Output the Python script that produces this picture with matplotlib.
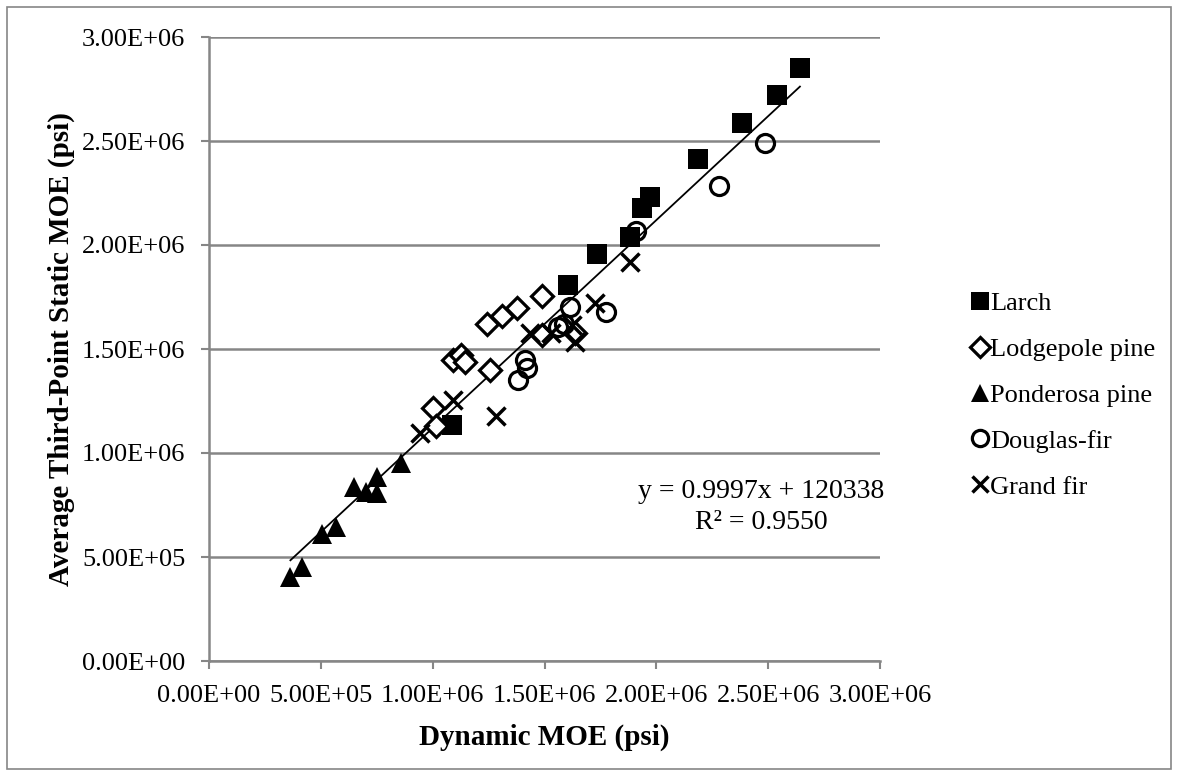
import matplotlib
matplotlib.use('Agg')
import matplotlib.pyplot as plt
from matplotlib.patches import Rectangle
from matplotlib.ticker import FuncFormatter, MultipleLocator

# Datos (psi)
larch_x = [1.085e6, 1.606e6, 1.734e6, 1.882e6, 1.935e6, 1.971e6, 2.185e6, 2.382e6, 2.539e6, 2.642e6]
larch_y = [1.135e6, 1.808e6, 1.957e6, 2.038e6, 2.178e6, 2.231e6, 2.413e6, 2.587e6, 2.721e6, 2.851e6]

lodgepole_x = [1.002e6, 1.016e6, 1.090e6, 1.126e6, 1.144e6, 1.258e6, 1.242e6, 1.309e6, 1.375e6, 1.488e6, 1.487e6, 1.635e6]
lodgepole_y = [1.216e6, 1.130e6, 1.447e6, 1.469e6, 1.438e6, 1.399e6, 1.620e6, 1.659e6, 1.697e6, 1.757e6, 1.567e6, 1.577e6]

ponderosa_x = [0.364e6, 0.416e6, 0.503e6, 0.570e6, 0.647e6, 0.701e6, 0.749e6, 0.749e6, 0.860e6]
ponderosa_y = [0.402e6, 0.453e6, 0.611e6, 0.643e6, 0.838e6, 0.814e6, 0.806e6, 0.886e6, 0.950e6]

douglas_x = [1.382e6, 1.412e6, 1.420e6, 1.561e6, 1.585e6, 1.614e6, 1.777e6, 1.908e6, 2.280e6, 2.485e6]
douglas_y = [1.351e6, 1.447e6, 1.407e6, 1.607e6, 1.620e6, 1.703e6, 1.679e6, 2.067e6, 2.284e6, 2.490e6]

grandfir_x = [0.942e6, 1.090e6, 1.285e6, 1.435e6, 1.531e6, 1.622e6, 1.635e6, 1.725e6, 1.882e6]
grandfir_y = [1.095e6, 1.255e6, 1.178e6, 1.575e6, 1.575e6, 1.615e6, 1.535e6, 1.720e6, 1.920e6]

# Línea de tendencia (del gráfico)
pendiente = 0.9997
intercepto = 120338
r2 = 0.9550

plt.rcParams['font.family'] = ['Liberation Serif', 'DejaVu Serif']
gris = '#868686'

fig = plt.figure(figsize=(11.78, 7.76), dpi=100)
ax = fig.add_axes([209/1178, 1 - 661/776, (880 - 209)/1178, (661 - 37)/776])

ax.plot(larch_x, larch_y, 's', color='black', ms=14, mew=0, label='Larch', zorder=3)
ax.plot(lodgepole_x, lodgepole_y, 'D', mfc='white', mec='black', ms=11, mew=2.3, label='Lodgepole pine', zorder=3)
ax.plot(ponderosa_x, ponderosa_y, '^', color='black', ms=14, mew=0, label='Ponderosa pine', zorder=3)
ax.plot(douglas_x, douglas_y, 'o', mfc='none', mec='black', ms=13, mew=2.3, label='Douglas-fir', zorder=3)
ax.plot(grandfir_x, grandfir_y, 'x', color='black', ms=13, mew=2.5, label='Grand fir', zorder=3)

todos_x = larch_x + lodgepole_x + ponderosa_x + douglas_x + grandfir_x
x0, x1 = min(todos_x), max(todos_x)
ax.plot([x0, x1], [pendiente * x0 + intercepto, pendiente * x1 + intercepto], color='black', lw=1.3, zorder=2)

ax.text(2.47e6, 0.74e6, f'y = {pendiente:.4f}x + {intercepto}\nR² = {r2:.4f}',
        ha='center', va='center', fontsize=20, linespacing=1.3)

ax.set_xlim(0, 3e6)
ax.set_ylim(0, 3e6)
ax.xaxis.set_major_locator(MultipleLocator(5e5))
ax.yaxis.set_major_locator(MultipleLocator(5e5))
fmt = FuncFormatter(lambda v, p: f'{v:.2E}')
ax.xaxis.set_major_formatter(fmt)
ax.yaxis.set_major_formatter(fmt)
ax.tick_params(labelsize=19, color=gris, width=1.5, length=5.5)
ax.tick_params(axis='x', pad=12)
ax.tick_params(axis='y', pad=11.5)
ax.grid(axis='y', color=gris, lw=1.8)
ax.set_axisbelow(True)
for s in ['top', 'right']:
    ax.spines[s].set_visible(False)
for s in ['left', 'bottom']:
    ax.spines[s].set_color(gris)
    ax.spines[s].set_linewidth(1.8)

ax.set_xlabel('Dynamic MOE (psi)', fontsize=21, fontweight='bold', labelpad=12)
ax.set_ylabel('Average Third-Point Static MOE (psi)', fontsize=21, fontweight='bold')
ax.yaxis.set_label_coords(-0.199, 0.5)

fig.legend(loc='center left', bbox_to_anchor=(948/1178, 1 - 395/776), frameon=False,
           fontsize=19, handlelength=0.6, handletextpad=0.1, labelspacing=0.85, markerscale=0.9)

# Borde del gráfico
fig.patches.append(Rectangle((7/1178, 7/776), 1164/1178, 762/776, transform=fig.transFigure,
                             fill=False, edgecolor=gris, lw=1.2))

fig.savefig('out.png', dpi=100)
